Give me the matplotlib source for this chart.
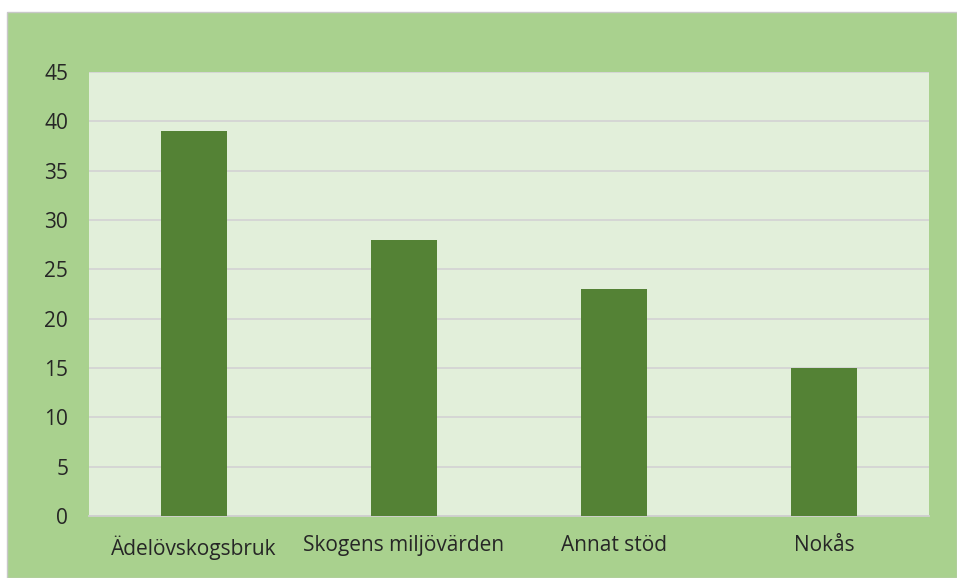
import matplotlib.pyplot as plt
from matplotlib.patches import Rectangle

kategorier = ["Ädelövskogsbruk", "Skogens miljövärden", "Annat stöd", "Nokås"]
antal = [39, 28, 23, 15]
yticks = [0, 5, 10, 15, 20, 25, 30, 35, 40, 45]

W, H = 957, 578
fig = plt.figure(figsize=(W / 100, H / 100), dpi=100)
fig.patch.set_facecolor("white")

# gröna ramen runt diagrammet
fig.patches.append(Rectangle((7 / W, 0), 1 - 7 / W, 1 - 12 / H, transform=fig.transFigure,
                             facecolor="#a9d18e", edgecolor="#c8c8c8", linewidth=1, zorder=-10))

ax = fig.add_axes([89 / W, 1 - 516 / H, 840 / W, 444 / H])
ax.set_zorder(1)
ax.set_facecolor("#e2efda")

x = range(len(kategorier))
ax.bar(x, antal, width=0.314, color="#548235", zorder=3)

ax.set_xlim(-0.5, len(kategorier) - 0.5)
ax.set_ylim(0, 45)
ax.set_yticks(yticks)
ax.set_xticks(list(x))
ax.set_xticklabels(kategorier)
ax.grid(axis="y", color="#d4d4d4", linewidth=1.3, zorder=1)

for s in ["top", "right", "left"]:
    ax.spines[s].set_visible(False)
ax.spines["bottom"].set_color("#d0d0d0")
ax.spines["bottom"].set_linewidth(1.3)

ax.tick_params(axis="both", length=0, labelsize=15, labelcolor="#262626")
ax.tick_params(axis="y", pad=15)
ax.tick_params(axis="x", pad=14)
for lbl in ax.get_xticklabels() + ax.get_yticklabels():
    lbl.set_family(["Open Sans", "DejaVu Sans"])

fig.savefig("out.png", dpi=100, facecolor=fig.get_facecolor())
